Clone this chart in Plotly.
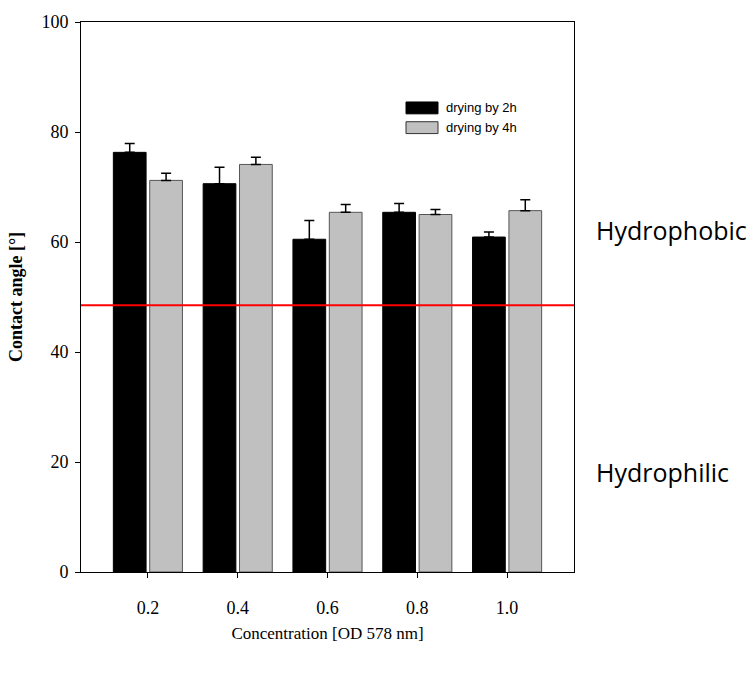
import plotly.graph_objects as go

concentrations = [0.2, 0.4, 0.6, 0.8, 1.0]
tick_labels = ["0.2", "0.4", "0.6", "0.8", "1.0"]
angle_2h = [76.3, 70.6, 60.5, 65.4, 60.9]
err_2h = [1.6, 3.0, 3.4, 1.6, 0.9]
angle_4h = [71.2, 74.1, 65.4, 65.0, 65.7]
err_4h = [1.3, 1.3, 1.4, 0.9, 2.0]
threshold = 48.5
series_names = ["drying by 2h", "drying by 4h"]

L, R, T, B = 81, 574, 15, 572
W, H = 756, 674

def px(x):
    return (x - L) / (R - L)

def py(y):
    return (B - y) / (B - T)

fig = go.Figure()
fig.add_trace(go.Bar(
    x=concentrations, y=angle_2h, name=series_names[0],
    marker=dict(color="black", line=dict(color="black", width=1)),
    error_y=dict(type="data", array=err_2h, arrayminus=[0]*5, symmetric=False,
                 color="black", thickness=1.5, width=5),
    showlegend=False,
))
fig.add_trace(go.Bar(
    x=concentrations, y=angle_4h, name=series_names[1],
    marker=dict(color="#c0c0c0", line=dict(color="#555555", width=1)),
    error_y=dict(type="data", array=err_4h, arrayminus=[0]*5, symmetric=False,
                 color="black", thickness=1.5, width=5),
    showlegend=False,
))

shapes = [
    dict(type="line", xref="paper", yref="y", x0=0, x1=1, y0=threshold, y1=threshold,
         line=dict(color="red", width=2)),
    dict(type="rect", xref="paper", yref="paper", x0=px(406), x1=px(438), y0=py(108), y1=py(96),
         fillcolor="black", line=dict(color="black", width=1)),
    dict(type="rect", xref="paper", yref="paper", x0=px(406), x1=px(438), y0=py(128), y1=py(116),
         fillcolor="#c0c0c0", line=dict(color="#333333", width=1)),
]
annotations = [
    dict(xref="paper", yref="paper", x=px(444), y=py(102), text=series_names[0], showarrow=False,
         xanchor="left", yanchor="middle", font=dict(family="Liberation Sans", size=13, color="black")),
    dict(xref="paper", yref="paper", x=px(444), y=py(122), text=series_names[1], showarrow=False,
         xanchor="left", yanchor="middle", font=dict(family="Liberation Sans", size=13, color="black")),
    dict(xref="paper", yref="paper", x=px(594), y=py(226), text="Hydrophobic", showarrow=False,
         xanchor="left", yanchor="middle", font=dict(family="Open Sans", size=25, color="black")),
    dict(xref="paper", yref="paper", x=px(594), y=py(471), text="Hydrophilic", showarrow=False,
         xanchor="left", yanchor="middle", font=dict(family="Open Sans", size=25, color="black")),
]

fig.update_layout(
    width=W, height=H,
    margin=dict(l=L, r=W - R, t=T, b=H - B),
    paper_bgcolor="white", plot_bgcolor="white",
    barmode="group", bargap=0.19, bargroupgap=0.1,
    shapes=shapes, annotations=annotations,
    font=dict(family="Liberation Serif", color="black"),
    xaxis=dict(
        range=[0.051, 1.149], tickvals=concentrations, ticktext=tick_labels,
        ticks="outside", ticklen=5, tickcolor="black", showgrid=False, zeroline=False,
        showline=True, linecolor="black", linewidth=1, mirror=True,
        tickfont=dict(family="Liberation Serif", size=18), ticklabelstandoff=14,
        title=dict(text="Concentration [OD 578 nm]", font=dict(family="Liberation Serif", size=17), standoff=10),
    ),
    yaxis=dict(
        range=[0, 100], tickvals=[0, 20, 40, 60, 80, 100],
        ticks="outside", ticklen=5, tickcolor="black", showgrid=False, zeroline=False,
        showline=True, linecolor="black", linewidth=1, mirror=True,
        tickfont=dict(family="Liberation Serif", size=18), ticklabelstandoff=3,
        title=dict(text="<b>Contact angle [°]</b>", font=dict(family="Liberation Serif", size=18), standoff=14),
    ),
)

fig.write_html("out.html")
